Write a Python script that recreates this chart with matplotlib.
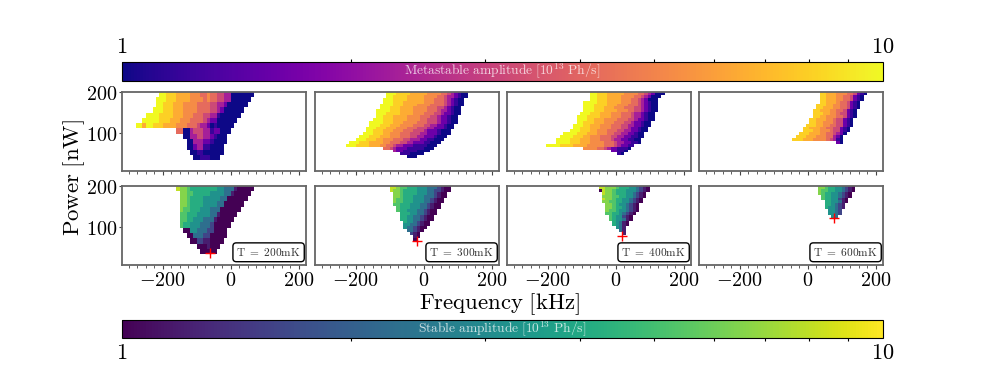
import numpy as np
import matplotlib
matplotlib.use('Agg')
import matplotlib.pyplot as plt
from matplotlib.colors import LogNorm
from matplotlib.ticker import NullFormatter

plt.rcParams['mathtext.fontset'] = 'cm'

# amplitude [10^13 Ph/s] for each digit in the rows below
amp_levels = [1.0, 1.2, 1.6, 2.3, 3.2, 4.2, 5.3, 6.5, 8.0, 10.0]

temps = [200, 300, 400, 600]
peak_freq = [-62, -21, 20, 79]
peak_power = [37, 67, 79, 122]

# rows go top to bottom: (first column, digits)
meta_200 = [(7, "9988877776665565544330000000"), (6, "9998887777666656554433000000"),
            (6, "998887776666555544332000000"), (5, "999888777666655554432000000"),
            (3, "9999888877766655544331000000"), (2, "9999988877766655554322000000"),
            (0, "99799888777766655543320100000"), (12, "5500344433122000"),
            (14, "0033443321000"), (15, "003332210000"), (15, "00233110000"),
            (16, "0011000000"), (17, "00111000")]
stab_200 = [(12, "87765555555544333100000"), (13, "776655555444433100000"),
            (13, "77655554444433000000"), (13, "7765555444433000000"),
            (13, "766555444333000000"), (13, "66555444433100000"),
            (13, "6655444333100000"), (13, "655444333200000"),
            (14, "0044333220000"), (15, "003332200000"), (16, "0022110000"),
            (18, "0001000"), (19, "00000")]

meta_300 = [(14, "999888877777666655432100"), (14, "998888777776666554332100"),
            (13, "999888877777666555432100"), (13, "999888777777666555432100"),
            (12, "9999888777766665555432100"), (12, "999888777766665554432100"),
            (11, "9999888777766665554332100"), (11, "9998888777766655544322100"),
            (11, "998887777666655544322100"), (10, "9998887777666655444322100"),
            (9, "99998887776666555444322100"), (9, "9998887776666555443322100"),
            (8, "99988877766655544433222100"), (8, "9988877766655544432221000"),
            (7, "99988877666555444332221000"), (6, "99988877766655544332221000"),
            (5, "99988877666555443332211000"), (3, "999888777766555443322211000"),
            (2, "999888877766554332221111000"), (13, "554322211111000"),
            (16, "32211110000"), (18, "1110000"), (20, "000")]
stab_300 = [(0, "887665554443332100"), (0, "877655554443322100"), (1, "7765555444332100"),
            (1, "7765554443332100"), (1, "766555444332100"), (1, "766555444332100"),
            (1, "66555444332100"), (2, "6555444332100"), (2, "655444332100"),
            (3, "55544332100"), (3, "5544332100"), (3, "5544332100"), (4, "54432100"),
            (4, "44332100"), (4, "4332100"), (5, "33210"), (6, "210"), (7, "10"), (7, "0")]

meta_400 = [(13, "9988877777666655432000"), (13, "998887777666655432000"),
            (13, "99888777766655432000"), (11, "9999888777766655432100"),
            (11, "9998888777666555432100"), (11, "9998887776665554432100"),
            (11, "9998887777666554432100"), (10, "9998887776665554332100"),
            (9, "99988887776665554332100"), (9, "99988777666655544322100"),
            (9, "9988877766655544322100"), (8, "99988777666555443322100"),
            (8, "9988877766655544322100"), (7, "99988877666555443322100"),
            (5, "999988877766655443322100"), (4, "9999888776665554433221100"),
            (3, "9999888777666555433221100"), (3, "9999888777666655543322110"),
            (0, "99998888777766666555432211"), (11, "66665543221110"),
            (19, "22110"), (21, "10")]
stab_400 = [(0, "887776555443210"), (0, "087765554443210"), (1, "8776555443210"),
            (1, "7776655443210"), (1, "877655443210"), (1, "776655443210"),
            (2, "7765443210"), (2, "7765543210"), (2, "7665443210"), (2, "665543210"),
            (3, "6544210"), (3, "6544310"), (4, "54310"), (4, "54310"), (5, "431"),
            (6, "31"), (7, "1")]

meta_600 = [(8, "88777666554210"), (8, "8877766554210"), (8, "8877766554210"),
            (8, "887776554210"), (7, "8887766554210"), (7, "8877766554210"),
            (6, "8877766554210"), (6, "8887766544210"), (6, "8877666554210"),
            (5, "8877766544210"), (5, "8877666544210"), (4, "88877665544210"),
            (3, "88777665544210"), (3, "88877666544210"), (2, "88877766554320"),
            (1, "88877766655320"), (0, "888777666654310"), (13, "20")]
stab_600 = [(0, "77655443210"), (0, "76655443210"), (0, "7655443210"), (1, "655443210"),
            (1, "65544210"), (2, "5544310"), (2, "554321"), (2, "544321"), (3, "4432"),
            (3, "4432"), (4, "43")]

meta_rows = [meta_200, meta_300, meta_400, meta_600]
stab_rows = [stab_200, stab_300, stab_400, stab_600]
# left edge of column 0 [kHz]
meta_f0 = [-280, -250, -205, -45]
stab_f0 = [-280, -100, -50, 30]
# top edge [nW] and row height [nW]
top_power = [201, 200, 200, 200]
row_step = [12.8, 7, 7, 7]
col_step = 10


def draw_map(ax, rows, f0, ptop, dp, cmap, norm):
    ncol = max(start + len(s) for start, s in rows)
    z = np.full((len(rows), ncol), np.nan)
    for i, (start, s) in enumerate(rows):
        for j, ch in enumerate(s):
            z[i, start + j] = amp_levels[int(ch)]
    x = f0 + col_step * np.arange(ncol + 1)
    y = ptop - dp * np.arange(len(rows) + 1)
    return ax.pcolormesh(x, y, np.ma.masked_invalid(z), cmap=cmap, norm=norm)


W, H = 981.0, 368.0
def px_axes(x0, x1, y0, y1):
    return fig.add_axes([x0 / W, 1 - y1 / H, (x1 - x0) / W, (y1 - y0) / H])


fig = plt.figure(figsize=(9.81, 3.68), dpi=100)
norm = LogNorm(1, 10)
lefts = [122, 315, 507, 699]
for k in range(4):
    top = px_axes(lefts[k], lefts[k] + 184, 92, 171)
    bot = px_axes(lefts[k], lefts[k] + 184, 186, 265)
    m_top = draw_map(top, meta_rows[k], meta_f0[k], top_power[k], row_step[k], 'plasma', norm)
    m_bot = draw_map(bot, stab_rows[k], stab_f0[k], top_power[k], row_step[k], 'viridis', norm)
    bot.plot(peak_freq[k], peak_power[k], '+', color='red', ms=7.5, mew=1.0)
    bot.text(0.972, 0.085, r'$\mathrm{T\ =\ %d mK}$' % temps[k], transform=bot.transAxes,
             ha='right', va='bottom', fontsize=8.2, color='#333333',
             bbox=dict(boxstyle='round,pad=0.3', fc='white', ec='black', lw=1.0))
    for ax in (top, bot):
        ax.set_xlim(-320, 222)
        ax.set_ylim(8, 200)
        ax.set_xticks([-200, 0, 200])
        ax.set_xticks(np.arange(-300, 225, 25), minor=True)
        ax.tick_params(axis='x', which='minor', length=2, width=0.6, color='#444444')
        ax.tick_params(axis='x', which='major', length=3, width=0.8, color='#444444')
        for sp in ax.spines.values():
            sp.set_color('#666666')
            sp.set_linewidth(1.3)
        if k == 0:
            ax.set_yticks([100, 200])
            ax.set_yticklabels([r'$100$', r'$200$'], fontsize=14.5)
            ax.tick_params(axis='y', length=2.5, width=0.8, pad=0.5, color='#444444')
        else:
            ax.set_yticks([])
    top.set_xticklabels([])
    bot.set_xticklabels([r'$-200$', r'$0$', r'$200$'], fontsize=14.5)
    bot.tick_params(axis='x', which='major', pad=1)

# colour bars
cax1 = px_axes(122, 883, 62, 81)
cb1 = fig.colorbar(m_top, cax=cax1, orientation='horizontal')
cb1.ax.xaxis.set_ticks_position('top')
cax2 = px_axes(122, 883, 320, 338)
cb2 = fig.colorbar(m_bot, cax=cax2, orientation='horizontal')
for cb in (cb1, cb2):
    cb.set_ticks([1, 10])
    cb.set_ticklabels([r'$1$', r'$10$'], fontsize=16)
    cb.ax.tick_params(which='major', length=0, pad=3.5)
    cb.ax.tick_params(which='minor', length=2.5, width=0.8)
    cb.ax.xaxis.set_minor_formatter(NullFormatter())
    cb.outline.set_linewidth(0.8)

cax1.text(0.5, 0.5, r'$\mathrm{Metastable\ amplitude\ [10^{13}\ Ph/s]}$', transform=cax1.transAxes,
          ha='center', va='center', fontsize=9.7, color='white', alpha=0.75)
cax2.text(0.5, 0.5, r'$\mathrm{Stable\ amplitude\ [10^{13}\ Ph/s]}$', transform=cax2.transAxes,
          ha='center', va='center', fontsize=9.7, color='white', alpha=0.75)

fig.text(500 / W, 1 - 304.5 / H, r'$\mathrm{Frequency\ [kHz]}$', ha='center', va='center', fontsize=16.4)
fig.text(74 / W, 1 - 178 / H, r'$\mathrm{Power\ [nW]}$', ha='center', va='center', rotation=90, fontsize=16.4)

fig.savefig('out.png', dpi=100)
